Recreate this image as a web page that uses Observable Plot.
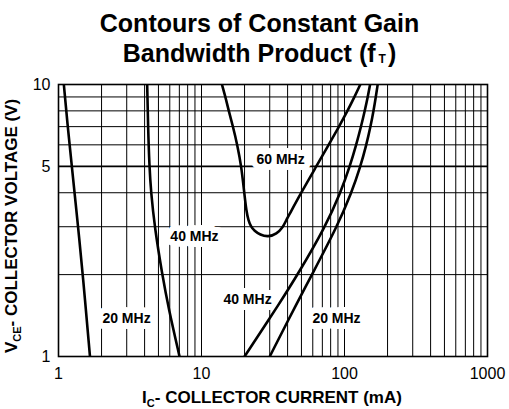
<!DOCTYPE html>
<html>
<head>
<meta charset="utf-8">
<script src="https://cdn.jsdelivr.net/npm/d3@7"></script>
<script src="https://cdn.jsdelivr.net/npm/@observablehq/plot@0.6"></script>
<style>
  html, body { margin: 0; padding: 0; background: #fff; }
  #wrap { width: 509px; height: 409px; position: relative; overflow: hidden; font-family: "Liberation Sans", Arial, Helvetica, sans-serif; }
  #title { width: 509px; height: 70px; box-sizing: border-box; padding-top: 8px; padding-left: 10px;
           text-align: center; font-weight: bold; font-size: 25px; line-height: 30px; color: #000; }
  #title .sub { font-size: 12px; position: relative; top: 1px; margin-left: 3px; margin-right: 2px; }
  svg { display: block; }
</style>
</head>
<body>
<div id="wrap">
  <div id="title">Contours of Constant Gain<br>Bandwidth Product (f<span class="sub">T</span>)</div>
  <div id="chart"></div>
</div>
<script>
// ---- data ----
const xTicks = [1, 10, 100, 1000];
const yTicks = [1, 5, 10];
const xGrid = [1,2,3,4,5,6,7,8,9,10,20,30,40,50,60,70,80,90,100,200,300,400,500,600,700,800,900,1000];
const yGrid = [1,2,3,4,5,6,7,8,9,10];

// 20 MHz (low current branch)
const c20aI = [1.09, 1.16, 1.24, 1.37, 1.48, 1.66];
const c20aV = [10, 7, 5, 3, 2, 1];
// 40 MHz (low current branch)
const c40aI = [4.17, 4.23, 4.32, 4.44, 4.70, 5.31, 5.89, 7.02];
const c40aV = [10, 7, 5, 4, 3, 2, 1.5, 1];
// 60 MHz (U shaped)
const c60I = [13.9, 14.7, 15.5, 16.6, 17.8, 19.0, 19.9, 20.6, 21.3, 22.2, 23.4, 25.7, 29.2, 33.5, 37.3, 39.0, 40.8, 49.7, 63.5, 77.5, 91.5, 105, 117.5, 129];
const c60V = [10, 9, 8, 7, 6, 5, 4, 3.42, 3.16, 3, 2.9, 2.8, 2.75, 2.82, 3, 3.16, 3.3, 4, 5, 6, 7, 8, 9, 10];
// 40 MHz (high current branch)
const c40bI = [20, 36, 47, 73.5, 93.8, 109, 120.8, 130.5, 138.5, 145.5, 151];
const c40bV = [1, 1.6, 2, 3, 4, 5, 6, 7, 8, 9, 10];
// 20 MHz (high current branch)
const c20bI = [30, 47.3, 59.2, 88.7, 112, 129.4, 142.2, 152, 159.6, 165.6, 170.6];
const c20bV = [1, 1.6, 2, 3, 4, 5, 6, 7, 8, 9, 10];

const labelText = ["60 MHz", "40 MHz", "20 MHz", "40 MHz", "20 MHz"];
const labelI = [35.7, 8.93, 2.99, 20.98, 87.9];
const labelV = [5.3, 2.76, 1.38, 1.62, 1.38];

// ---- build tables ----
const series = [
  ["20a", c20aI, c20aV],
  ["40a", c40aI, c40aV],
  ["60", c60I, c60V],
  ["40b", c40bI, c40bV],
  ["20b", c20bI, c20bV]
];
const rows = series.flatMap(([name, I, V]) => I.map((d, i) => ({curve: name, I: d, V: V[i]})));
const labels = labelText.map((t, i) => ({t, I: labelI[i], V: labelV[i]}));

const font = '"Liberation Sans", Arial, Helvetica, sans-serif';

const chart = Plot.plot({
  width: 509,
  height: 339,
  marginTop: 14,
  marginRight: 22,
  marginBottom: 53,
  marginLeft: 58,
  style: {fontFamily: font, background: "#fff", color: "#000", overflow: "visible"},
  x: {type: "log", domain: [1, 1000]},
  y: {type: "log", domain: [1, 10]},
  marks: [
    Plot.ruleX(xGrid, {x: d => d, stroke: "#000", strokeWidth: 1}),
    Plot.ruleY(yGrid, {y: d => d, stroke: "#000", strokeWidth: d => d === 5 ? 1.6 : 1}),
    Plot.frame({stroke: "#000", strokeWidth: 1.6}),
    Plot.text(labels, {x: "I", y: "V", text: "t", fontSize: 14, fontWeight: "bold", fill: "#000",
      stroke: "#fff", strokeWidth: 12, strokeLinejoin: "round"}),
    Plot.line(rows, {x: "I", y: "V", z: "curve", curve: "basis", stroke: "#000", strokeWidth: 2.6, clip: true}),
    Plot.axisX(xTicks, {tickSize: 0, tickPadding: 11, fontSize: 16, label: null, tickFormat: d => String(d)}),
    Plot.axisY(yTicks, {tickSize: 0, tickPadding: 8, fontSize: 16, label: null, tickFormat: d => String(d)})
  ]
});

document.getElementById("chart").appendChild(chart);

// axis titles with subscripts
const svg = d3.select(chart);
const xl = svg.append("text")
  .attr("x", 272).attr("y", 333)
  .attr("text-anchor", "middle")
  .attr("font-family", font).attr("font-size", 17).attr("font-weight", "bold").attr("fill", "#000");
xl.append("tspan").text("I");
xl.append("tspan").attr("font-size", 11).attr("dy", 4).text("C");
xl.append("tspan").attr("dy", -4).text("- COLLECTOR CURRENT (mA)");

const yl = svg.append("text")
  .attr("transform", "translate(17,156) rotate(-90)")
  .attr("text-anchor", "middle")
  .attr("font-family", font).attr("font-size", 17).attr("font-weight", "bold").attr("fill", "#000");
yl.append("tspan").text("V");
yl.append("tspan").attr("font-size", 11).attr("dy", 4).text("CE");
yl.append("tspan").attr("dy", -4).text("- COLLECTOR VOLTAGE (V)");
</script>
</body>
</html>
